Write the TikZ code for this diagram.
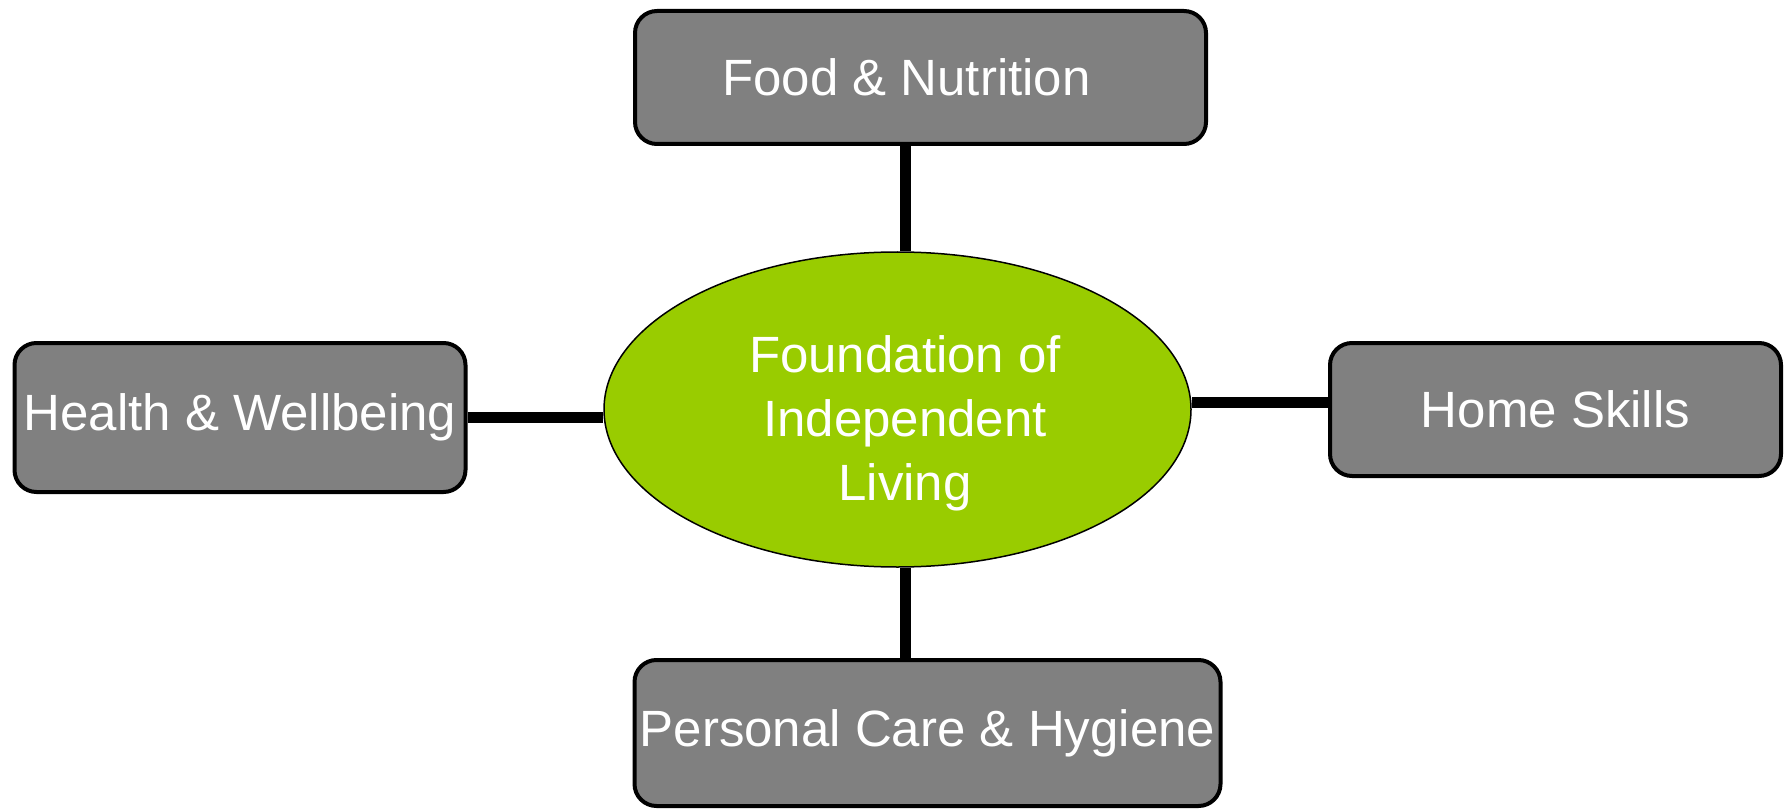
\documentclass[tikz,border=0pt]{standalone}
\usepackage{fontspec}
\setmainfont{Liberation Sans}
\usetikzlibrary{shapes.geometric}
\definecolor{boxgray}{HTML}{808080}
\definecolor{limegreen}{HTML}{99CC00}
\begin{document}
\begin{tikzpicture}[x=1pt,y=1pt,line join=round,
	font=\fontsize{51}{64}\selectfont,
	topic/.style={draw=black,line width=4pt,fill=boxgray,text=white,rounded corners=22pt,inner sep=0pt},
	hub/.style={ellipse,draw=black,line width=1.5pt,fill=limegreen,inner sep=0pt,minimum width=587pt,minimum height=315pt},
	hubtext/.style={text=white,align=center,inner sep=0pt},
	link/.style={line width=11pt}]
	\useasboundingbox (0,0) rectangle (1790,-810);
	\node[hub] (centre) at (897.5,-409.5) {};
	\node[hubtext] (centretext) at (905,-423) {Foundation of\\Independent\\Living};
	\node[topic,minimum width=571pt,minimum height=133pt] (food) at (920.5,-77.5) {\hspace*{-28pt}Food \& Nutrition};
	\node[topic,minimum width=451pt,minimum height=149pt] (health) at (240,-417.5) {Health \& Wellbeing};
	\node[topic,minimum width=451pt,minimum height=133pt] (home) at (1555.5,-409.5) {Home Skills};
	\node[topic,minimum width=586pt,minimum height=146pt] (care) at (927.5,-733) {Personal Care \& Hygiene};
	\coordinate (stem) at (905,0);
	\draw[link] (food.south -| stem) -- (stem |- centre.north);
	\draw[link] (centre.south -| stem) -- (stem |- care.north);
	\draw[link] (health.east) -- (health.east -| centre.west);
	\draw[link] ([yshift=7pt]home.west) -- ([yshift=7pt]home.west -| centre.east);
\end{tikzpicture}
\end{document}
